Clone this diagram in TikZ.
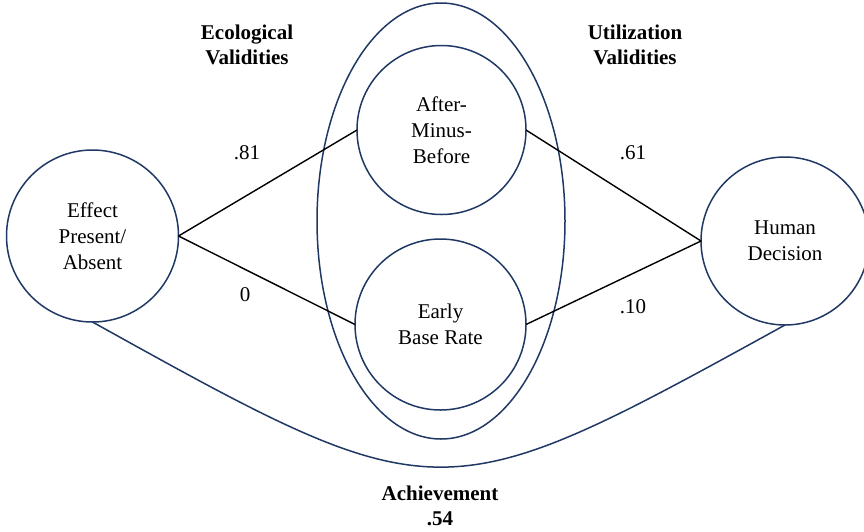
\documentclass[tikz,border=0pt]{standalone}
\usepackage{fontspec}
\setmainfont{Liberation Serif}
\usetikzlibrary{shapes.geometric}
\definecolor{navy}{HTML}{1F3864}
\begin{document}
\begin{tikzpicture}[x=1pt, y=-1pt,
  every node/.style={font=\fontsize{21}{26}\selectfont, align=center, inner sep=0pt, outer sep=0pt},
  cue/.style={circle, draw=navy, line width=1.5pt, minimum size=#1},
  link/.style={draw=black, line width=1.4pt},
  label/.style={font=\fontsize{21}{26}\selectfont},
  heading/.style={font=\fontsize{21}{25}\selectfont\bfseries}]
\useasboundingbox (0,0) rectangle (864,531);

% cue grouping
\node[ellipse, draw=navy, line width=1.5pt, minimum width=248pt, minimum height=436pt] (group) at (441,221) {};

% variables
\node[cue=172pt] (effect) at (92.5,236) {Effect\\Present/\\Absent};
\node[cue=169pt] (amb) at (441.5,130) {After-\\Minus-\\Before};
\node[cue=171pt] (ebr) at (440.5,324.5) {Early\\Base Rate};
\node[cue=168pt] (human) at (785,241) {Human\\Decision};

% lens connectors
\draw[link] (effect.east) -- (amb.west);
\draw[link] (effect.east) -- (ebr.west);
\draw[link] (amb.east) -- (human.west);
\draw[link] (ebr.east) -- (human.west);

% achievement arc
\draw[draw=navy, line width=1.5pt] (effect.south) .. controls (440,515) .. (human.south);

% coefficients
\node[label] (v81) at (247,153) {.81};
\node[label] (v0) at (245,295) {0};
\node[label] (v61) at (633,153) {.61};
\node[label] (v10) at (633,307) {.10};

% headings
\node[heading] (eco) at (247,45) {Ecological\\Validities};
\node[heading] (util) at (635,45) {Utilization\\Validities};
\node[heading] (ach) at (440,506) {Achievement\\.54};
\end{tikzpicture}
\end{document}
